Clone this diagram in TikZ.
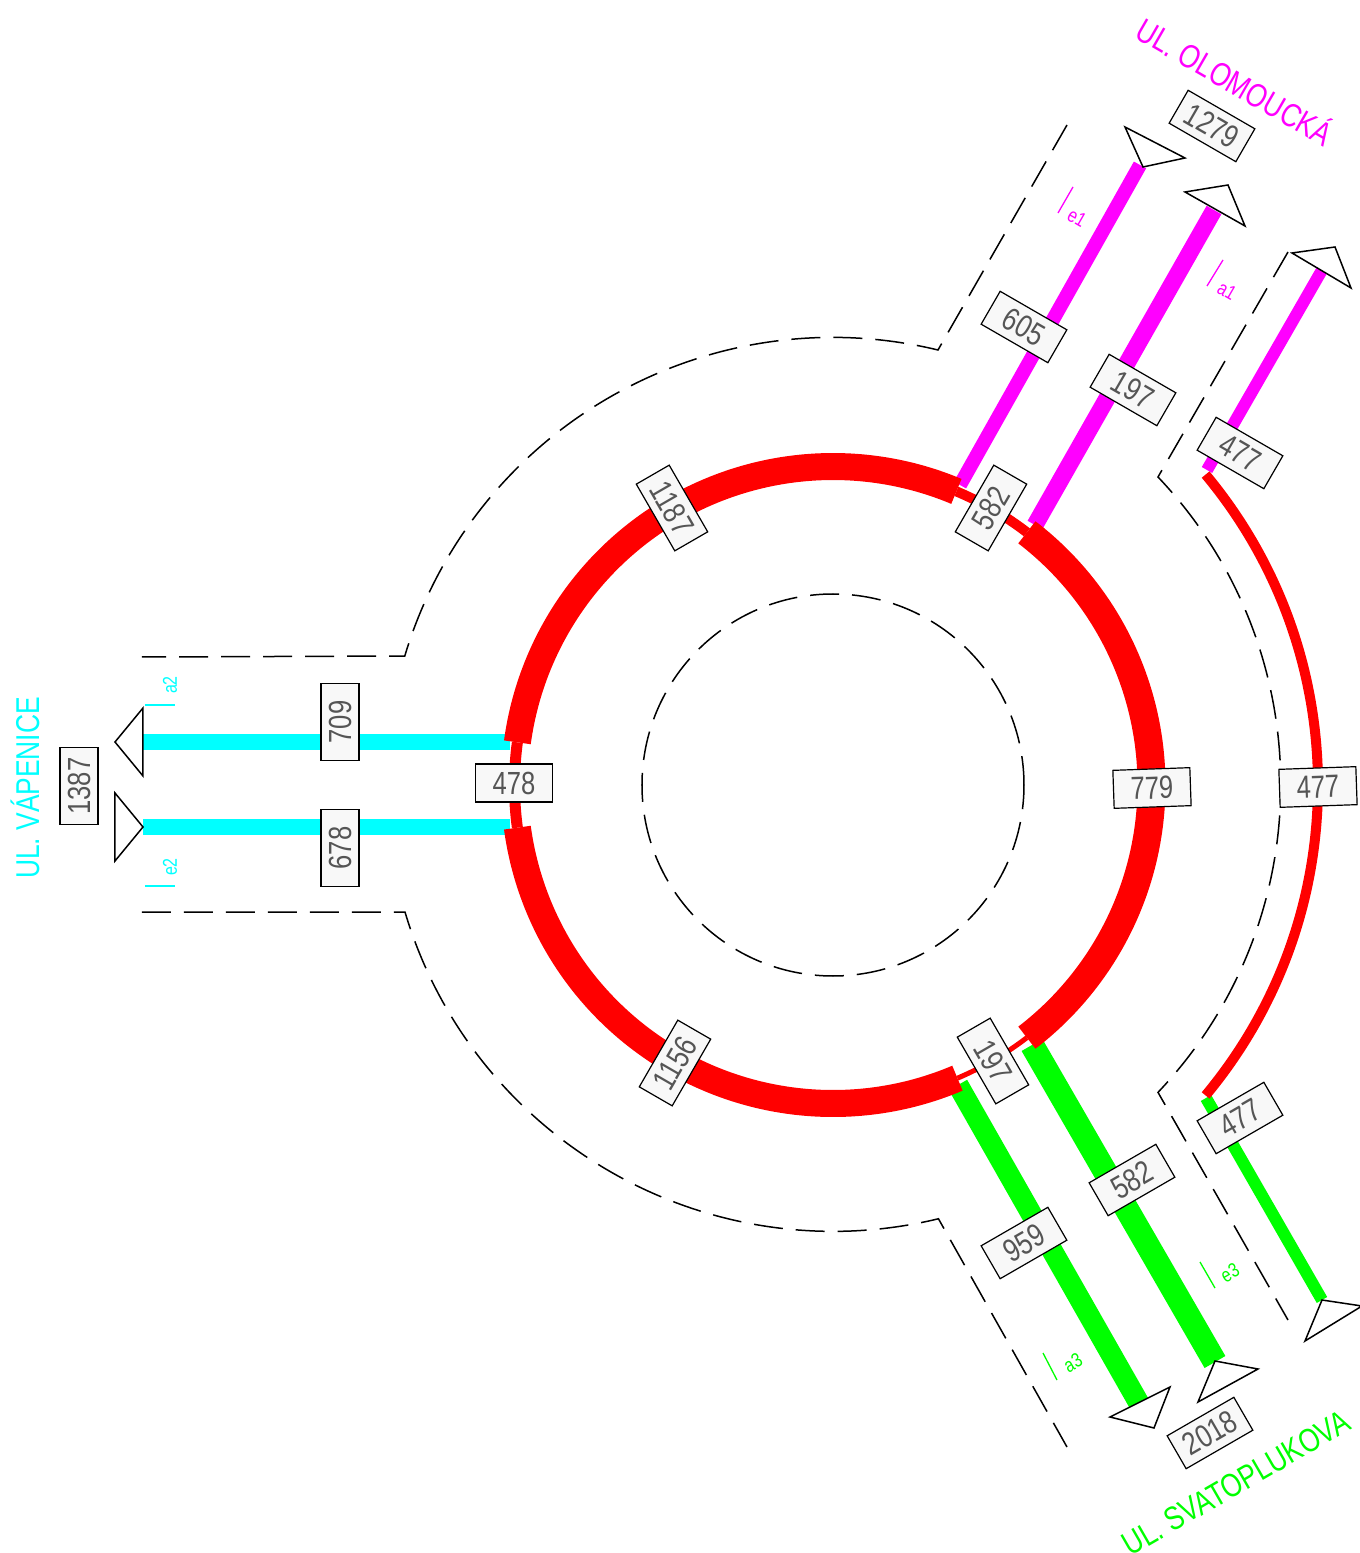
\documentclass[tikz,border=0pt]{standalone}
\usepackage{fontspec}
\setmainfont[FakeStretch=0.8]{Liberation Sans}
\definecolor{boxfill}{HTML}{F8F8F8}
\definecolor{boxtext}{HTML}{555555}
\definecolor{olomouc}{RGB}{255,0,255}
\definecolor{vapenice}{RGB}{0,255,255}
\definecolor{svatopluk}{RGB}{0,255,0}
\definecolor{ring}{RGB}{255,0,0}
\begin{document}
\begin{tikzpicture}[x=1pt,y=1pt,
    road/.style={black,line width=1.5pt,dash pattern=on 29pt off 13pt},
    tri/.style={draw=black,fill=white,line width=1.5pt,line join=miter},
    count/.style={draw=black,fill=boxfill,text=boxtext,line width=1.2pt,inner sep=0pt,
      minimum width=77pt,minimum height=38pt,font=\fontsize{32}{32}\selectfont},
    street/.style={font=\fontsize{33}{33}\selectfont,inner sep=0pt},
    sub/.style={font=\fontsize{20}{20}\selectfont,inner sep=0pt}]
  \useasboundingbox (-833,-768) rectangle (527,785);

  \draw[road] (0,0) circle [radius=191];
  \draw[road] (234,660) -- (105,435) arc [start angle=76.4, end angle=163.3, radius=447] -- (-691,128);
  \draw[road] (-691,-127) -- (-428,-127) arc [start angle=196.6, end angle=283.6, radius=447] -- (234,-662);
  \draw[road] (455,533) -- (325,308) arc [start angle=43.5, end angle=-43.5, radius=447] -- (455,-535);

  \foreach \xa/\ya/\xb/\yb/\w/\c in {127/300/307/620/14/olomouc, 202/260/381/575/17/olomouc,
      374/315/489/515/12/olomouc, 125/-300/307/-620/21/svatopluk, 199/-260/382/-577/24/svatopluk,
      373/-313/489/-515/12/svatopluk, -323/43/-690/43/16/vapenice, -323/-42/-690/-42/16/vapenice}
    \draw[\c,line width=\w pt] (\xa,\ya) -- (\xb,\yb);

  \foreach \a/\b/\w in {172.3/67.2/27, 67.2/52.5/10, 52.5/-52.5/28, -52.5/-67/5, -67/-172.3/27, 187.7/172.3/11}
    \draw[ring,line width=\w pt] (\a:318.5) arc [start angle=\a, end angle=\b, radius=318.5];
  \draw[ring,line width=10pt] (39.8:485) arc [start angle=39.8, end angle=-39.8, radius=485];

  \draw[tri] (292,658) -- (352,627) -- (310,618) -- cycle;
  \draw[tri] (352,593) -- (395,600) -- (412,559) -- cycle;
  \draw[tri] (459,532) -- (502,538) -- (518,497) -- cycle;
  \draw[tri] (-690,77) -- (-718,43) -- (-690,9) -- cycle;
  \draw[tri] (-718,-8) -- (-690,-42) -- (-718,-76) -- cycle;
  \draw[tri] (277,-632) -- (337,-602) -- (321,-643) -- cycle;
  \draw[tri] (365,-617) -- (382,-576) -- (425,-584) -- cycle;
  \draw[tri] (472,-556) -- (489,-515) -- (529,-521) -- cycle;

  \draw[olomouc,line width=1.3pt] (240,598) -- (225,572);
  \draw[olomouc,line width=1.3pt] (390,525) -- (374,499);
  \draw[vapenice,line width=1.3pt] (-688,80) -- (-658,80);
  \draw[vapenice,line width=1.3pt] (-688,-101) -- (-658,-101);
  \draw[svatopluk,line width=1.3pt] (367,-477) -- (382,-503);
  \draw[svatopluk,line width=1.3pt] (210,-568) -- (224,-595);
  \node[sub,olomouc,rotate=-30] (e1) at (244,567) {e1};
  \node[sub,olomouc,rotate=-30] (a1) at (394,494) {a1};
  \node[sub,vapenice,rotate=90] (a2) at (-663,100) {a2};
  \node[sub,vapenice,rotate=90] (e2) at (-663,-82) {e2};
  \node[sub,svatopluk,rotate=30] (e3) at (397,-488) {e3};
  \node[sub,svatopluk,rotate=30] (a3) at (240,-578) {a3};

  \node[count,rotate=-30] (n1279) at (379,659) {1279};
  \node[count,rotate=-30] (n605) at (191,458) {605};
  \node[count,rotate=-30] (n197) at (300,395) {197};
  \node[count,rotate=-30] (n477a) at (407,332) {477};
  \node[count,rotate=60] (n582a) at (158,277) {582};
  \node[count,rotate=-60] (n1187) at (-161,277) {1187};
  \node[count] (n478) at (-319,2) {478};
  \node[count,rotate=2] (n779) at (319,-3) {779};
  \node[count,rotate=2] (n477b) at (485,-2) {477};
  \node[count,rotate=90] (n709) at (-493,63) {709};
  \node[count,rotate=90] (n678) at (-493,-63) {678};
  \node[count,rotate=90] (n1387) at (-754,-1) {1387};
  \node[count,rotate=60] (n1156) at (-158,-278) {1156};
  \node[count,rotate=-60] (n197b) at (160,-276) {197};
  \node[count,rotate=30] (n477c) at (407,-333) {477};
  \node[count,rotate=30] (n582b) at (299,-395) {582};
  \node[count,rotate=30] (n959) at (191,-458) {959};
  \node[count,rotate=30] (n2018) at (377,-648) {2018};

  \node[street,olomouc,rotate=-30] (olomoucka) at (403,705) {UL. OLOMOUCKÁ};
  \node[street,svatopluk,rotate=30] (svatoplukova) at (403,-698) {UL. SVATOPLUKOVA};
  \node[street,vapenice,rotate=90] (vapenicetxt) at (-808,-3) {UL. VÁPENICE};
\end{tikzpicture}
\end{document}
